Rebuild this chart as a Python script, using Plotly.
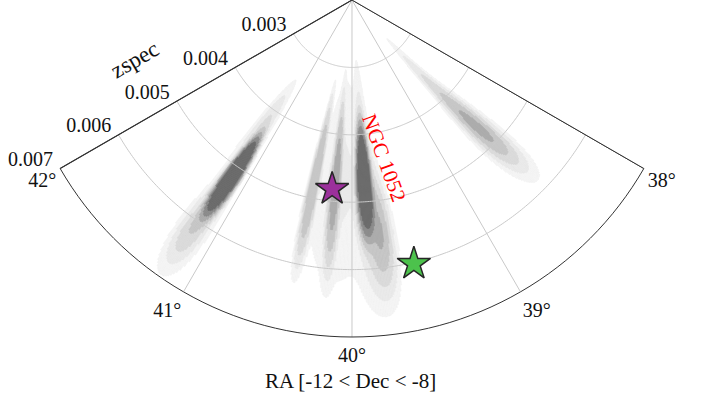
import numpy as np
import plotly.graph_objects as go

# ---- axes -------------------------------------------------------------
# One degree of RA is spread over 30 degrees of the wedge; RA 40 points down.
RA_CENTER = 40.0
RA_STRETCH = 30.0


def ra_to_theta(ra):
    return 270.0 - (np.asarray(ra, dtype=float) - RA_CENTER) * RA_STRETCH


ra_range = [38.0, 42.0]
ra_ticks = [42, 41, 40, 39, 38]
ra_tick_labels = ["42°", "41°", "40°", "39°", "38°"]
z_range = [0.002, 0.007]
z_ticks = [0.003, 0.004, 0.005, 0.006, 0.007]
z_tick_labels = ["0.003", "0.004", "0.005", "0.006", "0.007"]

# ---- galaxy density: clumps in (RA, zspec) -----------------------------
# shape exponent 2 = Gaussian, larger = flatter-topped clump
comp_ra = [41.14, 41.16, 41.17, 39.875, 39.86, 39.77, 40.17, 40.39, 40.12, 38.51, 38.56]
comp_z = [0.00515, 0.00600, 0.00440, 0.00468, 0.00470, 0.00550, 0.00475, 0.00475,
          0.00470, 0.00470, 0.00385]
comp_sig_ra = [0.060, 0.055, 0.060, 0.065, 0.060, 0.055, 0.038, 0.038, 0.170,
               0.065, 0.055]
comp_sig_z = [0.00057, 0.00045, 0.00050, 0.00070, 0.00090, 0.00050, 0.00085,
              0.00085, 0.00100, 0.00048, 0.00060]
comp_amp = [1.00, 0.20, 0.12, 0.85, 0.12, 0.30, 0.33, 0.28, 0.06, 0.33, 0.10]
comp_shape = [4, 2, 2, 4, 2, 2, 3, 3, 2, 2, 2]
comp_shear = [0.0, 0.0, 0.0, 0.0, 0.0, 0.0, 0.0, 0.0, 0.0, -34.0, -34.0]  # RA drift per unit zspec

density_levels = [0.02, 0.05, 0.10, 0.18, 0.30, 0.45, 0.65]
level_colors = ["#f4f4f4", "#e9e9e9", "#dadada", "#c6c6c6",
                "#ababab", "#8b8b8b", "#6b6b6b"]

# ---- highlighted objects ------------------------------------------------
star_ra = [40.20, 39.56]
star_z = [0.00482, 0.00602]
star_colors = ["#9b309b", "#4cc24c"]

label_text = "NGC 1052"

FONT = "Liberation Serif"

# ---- density grid -------------------------------------------------------
d_ra = 0.01
ra_cols = np.arange(ra_range[0] + d_ra / 2, ra_range[1], d_ra)
d_z = 0.00001
z_edges = np.arange(z_range[0], z_range[1] + d_z / 2, d_z)
z_mid = 0.5 * (z_edges[:-1] + z_edges[1:])
RA, Z = np.meshgrid(ra_cols, z_mid, indexing="ij")

dens = np.zeros_like(RA)
for r0, z0, sr, sz, a, p, sh in zip(comp_ra, comp_z, comp_sig_ra, comp_sig_z,
                                     comp_amp, comp_shape, comp_shear):
    ra_c = r0 + sh * (Z - z0)
    q2 = ((RA - ra_c) / sr) ** 2 + ((Z - z0) / sz) ** 2
    dens += a * np.exp(-0.5 * q2 ** (p / 2.0))

col_theta = ra_to_theta(ra_cols)

fig = go.Figure()

# filled density levels: one radial bar per contiguous run in each RA column
for thr, col in zip(density_levels, level_colors):
    th, base, length = [], [], []
    for i in range(len(ra_cols)):
        m = np.concatenate([[0], (dens[i] >= thr).astype(int), [0]])
        d = np.diff(m)
        starts = np.where(d == 1)[0]
        ends = np.where(d == -1)[0]
        for s, e in zip(starts, ends):
            th.append(col_theta[i])
            base.append(z_edges[s])
            length.append(z_edges[e] - z_edges[s])
    fig.add_trace(go.Barpolar(
        r=length, base=base, theta=th, width=d_ra * RA_STRETCH,
        marker=dict(color=col, line=dict(color=col, width=0.6)),
        hoverinfo="skip", showlegend=False))

# grid drawn over the density
grid_col = "#c9c9c9"
arc_ra = np.linspace(ra_range[0], ra_range[1], 241)
for zt in z_ticks[:-1]:
    fig.add_trace(go.Scatterpolar(
        r=np.full(arc_ra.size, zt), theta=ra_to_theta(arc_ra), mode="lines",
        line=dict(color=grid_col, width=1), hoverinfo="skip", showlegend=False))
for rt in ra_ticks[1:-1]:
    fig.add_trace(go.Scatterpolar(
        r=z_range, theta=ra_to_theta([rt, rt]), mode="lines",
        line=dict(color=grid_col, width=1), hoverinfo="skip", showlegend=False))

# right-hand edge of the wedge
fig.add_trace(go.Scatterpolar(
    r=z_range, theta=ra_to_theta([ra_range[0], ra_range[0]]), mode="lines",
    line=dict(color="#333333", width=1), hoverinfo="skip", showlegend=False))

# stars
fig.add_trace(go.Scatterpolar(
    r=star_z, theta=ra_to_theta(star_ra), mode="markers",
    marker=dict(symbol="star", size=25, color=star_colors,
                line=dict(color="#262626", width=1.5)),
    hoverinfo="skip", showlegend=False))

fig.update_layout(
    width=708, height=403,
    margin=dict(l=60, r=64, t=0, b=66),
    paper_bgcolor="white",
    font=dict(family=FONT, size=20, color="#111111"),
    polar=dict(
        domain=dict(x=[0, 1], y=[0, 1]),
        bgcolor="white",
        sector=[float(ra_to_theta(ra_range[1])), float(ra_to_theta(ra_range[0]))],
        radialaxis=dict(
            range=z_range, angle=float(ra_to_theta(ra_range[1])),
            tickmode="array", tickvals=z_ticks, ticktext=z_tick_labels,
            ticks="", showgrid=False, showline=True, linecolor="#333333",
            linewidth=1, side="clockwise", tickangle=-150,
            tickfont=dict(family=FONT, size=20, color="#111111")),
        angularaxis=dict(
            thetaunit="degrees", direction="counterclockwise", rotation=0,
            tickmode="array", tickvals=list(ra_to_theta(ra_ticks)),
            ticktext=ra_tick_labels, ticks="", showgrid=False,
            showline=True, linecolor="#333333", linewidth=1,
            tickfont=dict(family=FONT, size=20, color="#111111")),
    ),
    annotations=[
        dict(text="zspec", x=0.1284, y=0.824, xref="paper", yref="paper",
             textangle=-30, showarrow=False, xanchor="center", yanchor="middle",
             font=dict(family=FONT, size=23, color="#111111")),
        dict(text="RA [-12 &lt; Dec &lt; -8]", x=0.497, y=-0.131,
             xref="paper", yref="paper", showarrow=False,
             xanchor="center", yanchor="middle",
             font=dict(family=FONT, size=21, color="#111111")),
        dict(text=label_text, x=0.5548, y=0.531, xref="paper", yref="paper",
             textangle=70, showarrow=False, xanchor="center", yanchor="middle",
             font=dict(family=FONT, size=21, color="red")),
    ],
)

fig.write_html("out.html")
